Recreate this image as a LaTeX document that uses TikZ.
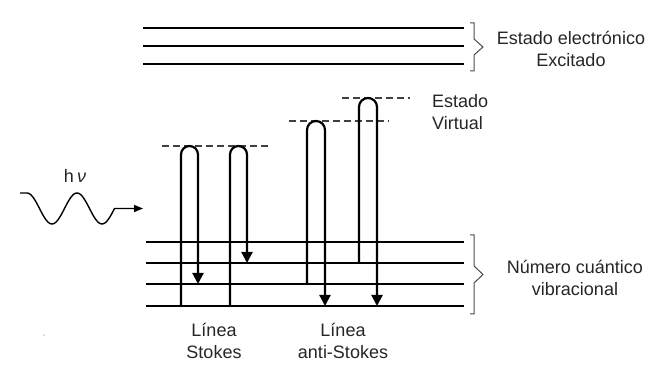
\documentclass[tikz,border=0pt]{standalone}
\usepackage{fontspec}
\setmainfont{Liberation Sans}
\usetikzlibrary{arrows.meta}
\begin{document}
\begin{tikzpicture}[x=1pt,y=1pt,
  level/.style={line width=2.2pt},
  virtual/.style={line width=1.2pt, black!75, dash pattern=on 7pt off 4pt},
  loopline/.style={line width=2.2pt},
  emit/.style={loopline, -{Triangle[length=11pt,width=11pt]}},
  bracket/.style={line width=1pt, black!70, line join=miter},
  lbl/.style={font=\fontsize{18}{22}\selectfont, text=black!85, align=center, inner sep=0pt}
]
\useasboundingbox[fill=white] (0,0) rectangle (651,379);

% excited electronic state
\foreach \yy in {351,333,315}
  \draw[level] (143,\yy) -- (464,\yy);
\draw[bracket] (470,356) -- (474,356) -- (474,340) -- (483,332) -- (474,324) -- (474,308) -- (470,308);
\node[lbl] (exc) at (571,330.5) {Estado electrónico\\Excitado};

% vibrational levels of the ground state
\foreach \yy/\nm in {137/v3,116/v2,95/v1,73/v0}
  \draw[level] (146,\yy) -- (464,\yy) coordinate[pos=0] (\nm);
\draw[bracket] (470,144) -- (474,144) -- (474,113) -- (483,104.5) -- (474,96) -- (474,65) -- (470,65);
\node[lbl] (vib) at (575,101.5) {Número cuántico\\vibracional};

% virtual states
\draw[virtual] (162,233) -- (269,233);
\draw[virtual] (289,258) -- (389,258);
\draw[virtual] (342,281) -- (410,281);
\node[lbl, anchor=west, align=left] (virt) at (432,267) {Estado\\Virtual};

% Stokes transitions
\draw[emit] (181,73) -- (181,224.5) arc[start angle=180,end angle=0,radius=8.5] -- (198,95);
\draw[emit] (230,73) -- (230,224.5) arc[start angle=180,end angle=0,radius=8.5] -- (247,116);
% anti-Stokes transitions
\draw[emit] (307,95) -- (307,249) arc[start angle=180,end angle=0,radius=9] -- (325,73);
\draw[emit] (359,116) -- (359,272) arc[start angle=180,end angle=0,radius=9] -- (377,73);

\node[lbl] (stk) at (214,38) {Línea\\Stokes};
\node[lbl] (astk) at (343,38) {Línea\\anti-Stokes};

% incident photon
\node[lbl] (hv) at (75,203) {h\,\textit{ν}};
\draw[line width=1.4pt, -{Triangle[length=9pt,width=7pt]}]
  (20,186) -- (27,186)
  -- plot[domain=27:114.5, samples=60, smooth] (\x,{170.5+15.5*cos(7.2*(\x-27))})
  -- (143,170.5);

\fill[black!50] (44,44) circle (0.7);
\end{tikzpicture}
\end{document}
